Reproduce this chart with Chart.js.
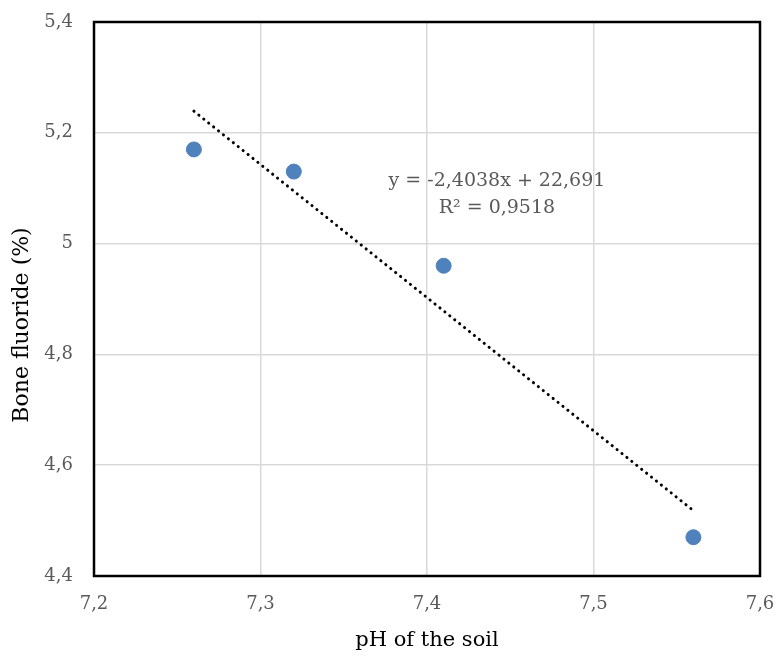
<!DOCTYPE html>
<html><head><meta charset="utf-8">
<script src="https://cdn.jsdelivr.net/npm/chart.js@4/dist/chart.umd.min.js"></script>
<style>html,body{margin:0;padding:0;background:#fff}#wrap{width:776px;height:657px}</style>
</head><body><div id="wrap"><canvas id="c" width="776" height="657"></canvas></div>
<script>
const phValues = [7.26, 7.32, 7.41, 7.56];
const boneFluoride = [5.17, 5.13, 4.96, 4.47];
const trendX = [7.26, 7.56];
const trendY = [5.239, 4.518];
const xTicks = [7.2, 7.3, 7.4, 7.5, 7.6];
const yTicks = [4.4, 4.6, 4.8, 5.0, 5.2, 5.4];
const eqLines = ["y = -2,4038x + 22,691", "R\u00B2 = 0,9518"];
const eqPos = [7.442, 5.09];
const yTitle = "Bone fluoride (%)";
const xTitle = "pH of the soil";

const FONT = "'DejaVu Serif', 'Liberation Serif', serif";
const fmt = v => String(Math.round(v*10)/10).replace('.', ',');

const frame = {
  id: 'frame',
  afterDatasetsDraw(chart) {
    const {ctx, chartArea: a, scales} = chart;
    ctx.save();
    ctx.strokeStyle = '#000';
    ctx.lineWidth = 2.5;
    ctx.strokeRect(a.left, a.top, a.right - a.left, a.bottom - a.top);
    ctx.fillStyle = '#595959';
    ctx.font = "19px " + FONT;
    ctx.textAlign = 'center';
    ctx.textBaseline = 'middle';
    const px = scales.x.getPixelForValue(eqPos[0]);
    const py = scales.y.getPixelForValue(eqPos[1]);
    ctx.fillText(eqLines[0], px, py - 13);
    ctx.fillText(eqLines[1], px, py + 14);
    ctx.fillStyle = '#000';
    ctx.font = "22px " + FONT;
    ctx.translate(22, (a.top + a.bottom) / 2 + 26);
    ctx.rotate(-Math.PI / 2);
    ctx.fillText(yTitle, 0, 0);
    ctx.restore();
  }
};

new Chart(document.getElementById('c'), {
  type: 'scatter',
  data: {
    datasets: [
      {
        data: phValues.map((x, i) => ({x, y: boneFluoride[i]})),
        backgroundColor: '#4F81BD', borderColor: '#4F81BD',
        pointRadius: 7.5, pointHoverRadius: 7.5, order: 2
      },
      {
        type: 'line',
        data: trendX.map((x, i) => ({x, y: trendY[i]})),
        borderColor: '#000', borderWidth: 3,
        borderDash: [0.1, 6.2], borderCapStyle: 'round',
        pointRadius: 0, fill: false, order: 1
      }
    ]
  },
  options: {
    responsive: false, animation: false,
    layout: {padding: {top: 22, right: 16, left: 0, bottom: 0}},
    plugins: {legend: {display: false}, tooltip: {enabled: false}},
    scales: {
      x: {
        type: 'linear', min: 7.2, max: 7.6,
        afterBuildTicks: s => { s.ticks = xTicks.map(v => ({value: v})); },
        afterFit: s => { s.height = 81; s.paddingLeft = 0; s.paddingRight = 0; },
        grid: {color: '#d9d9d9', lineWidth: 1.5, drawTicks: false},
        border: {display: false},
        ticks: {color: '#595959', font: {family: FONT, size: 18}, padding: 18, callback: v => fmt(v)},
        title: {display: true, text: xTitle, color: '#000', font: {family: FONT, size: 21}, padding: {top: 20}}
      },
      y: {
        type: 'linear', min: 4.4, max: 5.4,
        afterBuildTicks: s => { s.ticks = yTicks.map(v => ({value: v})); },
        afterFit: s => { s.width = 94; s.paddingTop = 0; s.paddingBottom = 0; },
        grid: {color: '#d9d9d9', lineWidth: 1.5, drawTicks: false},
        border: {display: false},
        ticks: {color: '#595959', font: {family: FONT, size: 18}, padding: 21, callback: v => fmt(v)},
        title: {display: false}
      }
    }
  },
  plugins: [frame]
});
</script></body></html>
